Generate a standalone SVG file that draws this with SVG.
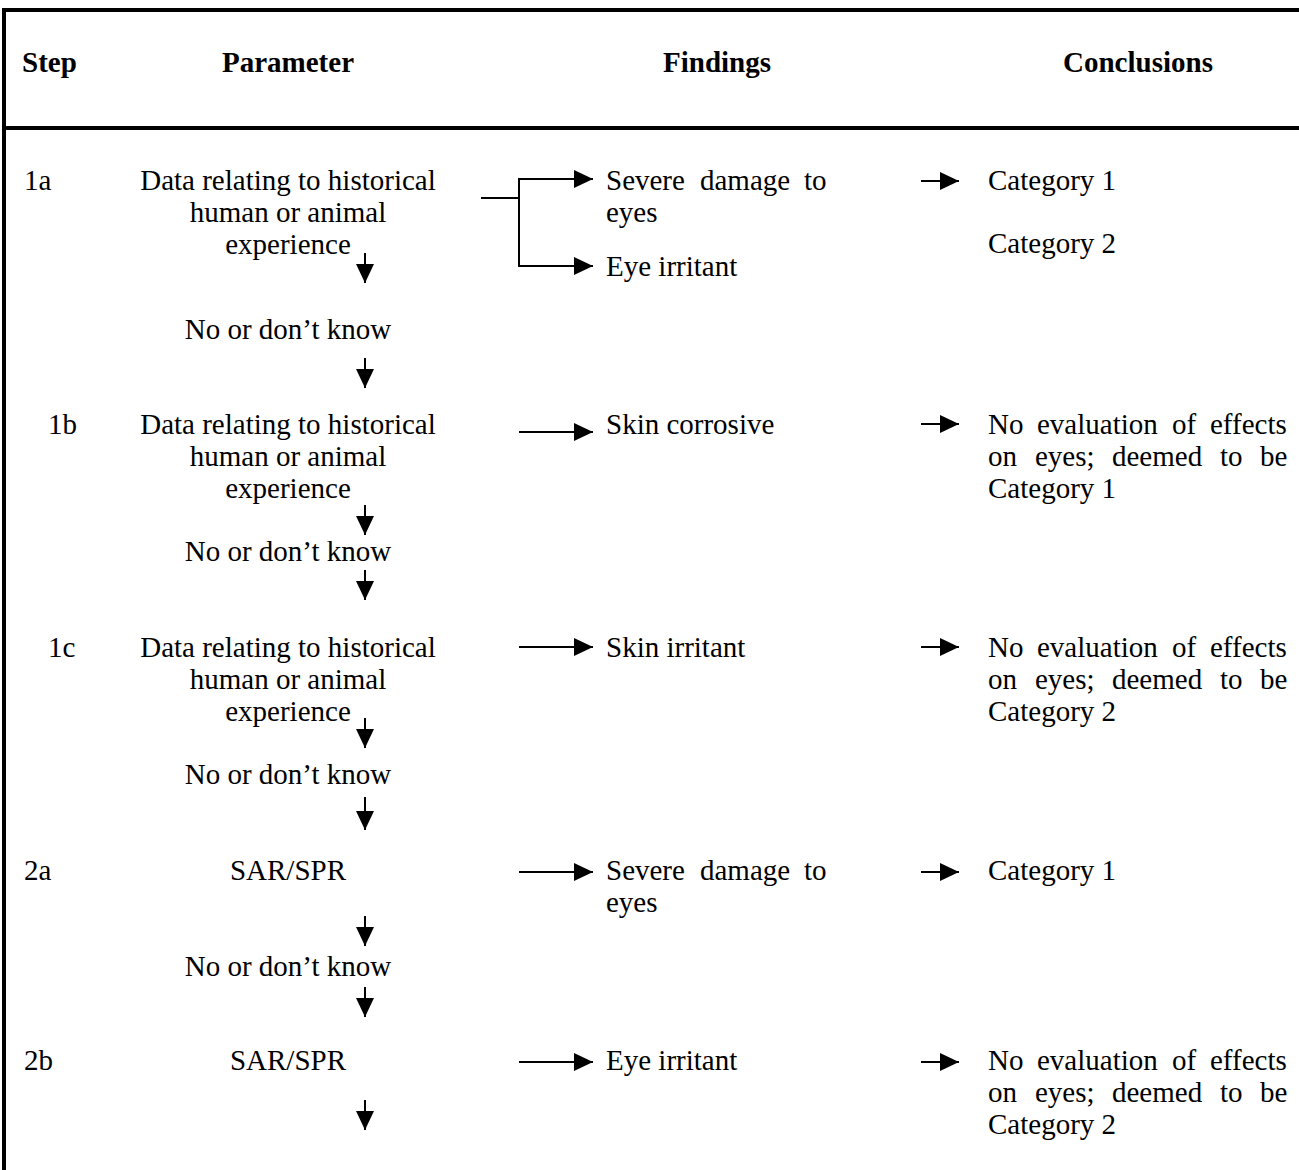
<svg xmlns="http://www.w3.org/2000/svg" width="1299" height="1170" viewBox="0 0 1299 1170">
<style>
text{font-family:"Liberation Serif","Times New Roman",serif;font-size:29px;fill:#000}
.h{font-weight:bold}
.c{text-anchor:middle}
.frame{stroke:#000;stroke-width:4;fill:none}
.ln{stroke:#000;stroke-width:2;fill:none}
.ar{stroke:#000;stroke-width:2;fill:none;marker-end:url(#ah)}
</style>
<defs>
<marker id="ah" markerUnits="userSpaceOnUse" markerWidth="19" markerHeight="18" refX="19" refY="9" orient="auto">
<path d="M0,0 L19,9 L0,18 z" fill="#000"/>
</marker>
</defs>
<rect width="1299" height="1170" fill="#fff"/>
<g id="frame">
<line class="frame" x1="4" y1="8" x2="4" y2="1170"/>
<line class="frame" x1="2" y1="10" x2="1299" y2="10"/>
<line class="frame" x1="2" y1="128" x2="1299" y2="128"/>
</g>
<g id="header">
<text class="h" x="22" y="72">Step</text>
<text class="h c" x="288" y="72">Parameter</text>
<text class="h c" x="717" y="72">Findings</text>
<text class="h c" x="1138" y="72">Conclusions</text>
</g>
<g id="row1a">
<text x="24" y="190">1a</text>
<text class="c" x="288" y="190">Data relating to historical</text>
<text class="c" x="288" y="222">human or animal</text>
<text class="c" x="288" y="254">experience</text>
</g>
<g id="no1a"><text class="c" x="288" y="339">No or don’t know</text></g>
<g id="find1a-severe"><text y="190"><tspan x="606">Severe</tspan><tspan x="700">damage</tspan><tspan x="804">to</tspan></text><text x="606" y="222">eyes</text></g>
<g id="find1a-irritant"><text x="606" y="276">Eye irritant</text></g>
<g id="conc1a-cat1"><text x="988" y="190">Category 1</text></g>
<g id="conc1a-cat2"><text x="988" y="253">Category 2</text></g>

<g id="row1b">
<text x="48" y="434">1b</text>
<text class="c" x="288" y="434">Data relating to historical</text>
<text class="c" x="288" y="466">human or animal</text>
<text class="c" x="288" y="498">experience</text>
</g>
<g id="no1b"><text class="c" x="288" y="561">No or don’t know</text></g>
<g id="find1b"><text x="606" y="434">Skin corrosive</text></g>
<g id="conc1b"><text y="434"><tspan x="988">No</tspan><tspan x="1037">evaluation</tspan><tspan x="1172">of</tspan><tspan x="1210">effects</tspan></text>
<text y="466"><tspan x="988">on</tspan><tspan x="1035">eyes;</tspan><tspan x="1112">deemed</tspan><tspan x="1220">to</tspan><tspan x="1260">be</tspan></text>
<text x="988" y="498">Category 1</text></g>

<g id="row1c">
<text x="48" y="657">1c</text>
<text class="c" x="288" y="657">Data relating to historical</text>
<text class="c" x="288" y="689">human or animal</text>
<text class="c" x="288" y="721">experience</text>
</g>
<g id="no1c"><text class="c" x="288" y="784">No or don’t know</text></g>
<g id="find1c"><text x="606" y="657">Skin irritant</text></g>
<g id="conc1c"><text y="657"><tspan x="988">No</tspan><tspan x="1037">evaluation</tspan><tspan x="1172">of</tspan><tspan x="1210">effects</tspan></text>
<text y="689"><tspan x="988">on</tspan><tspan x="1035">eyes;</tspan><tspan x="1112">deemed</tspan><tspan x="1220">to</tspan><tspan x="1260">be</tspan></text>
<text x="988" y="721">Category 2</text></g>

<g id="row2a">
<text x="24" y="880">2a</text>
<text class="c" x="288" y="880">SAR/SPR</text>
</g>
<g id="no2a"><text class="c" x="288" y="976">No or don’t know</text></g>
<g id="find2a"><text y="880"><tspan x="606">Severe</tspan><tspan x="700">damage</tspan><tspan x="804">to</tspan></text><text x="606" y="912">eyes</text></g>
<g id="conc2a"><text x="988" y="880">Category 1</text></g>

<g id="row2b">
<text x="24" y="1070">2b</text>
<text class="c" x="288" y="1070">SAR/SPR</text>
</g>
<g id="find2b"><text x="606" y="1070">Eye irritant</text></g>
<g id="conc2b"><text y="1070"><tspan x="988">No</tspan><tspan x="1037">evaluation</tspan><tspan x="1172">of</tspan><tspan x="1210">effects</tspan></text>
<text y="1102"><tspan x="988">on</tspan><tspan x="1035">eyes;</tspan><tspan x="1112">deemed</tspan><tspan x="1220">to</tspan><tspan x="1260">be</tspan></text>
<text x="988" y="1134">Category 2</text></g>

<g id="connectors">
<!-- 1a bracket -->
<line class="ln" x1="481" y1="198" x2="519" y2="198"/>
<line class="ln" x1="519" y1="179" x2="519" y2="267"/>
<line class="ar" x1="518" y1="179" x2="593" y2="179"/>
<line class="ar" x1="518" y1="266" x2="593" y2="266"/>
<line class="ar" x1="921" y1="181" x2="959" y2="181"/>
<!-- vertical arrows -->
<line class="ar" x1="365" y1="253" x2="365" y2="283"/>
<line class="ar" x1="365" y1="358" x2="365" y2="388"/>
<line class="ar" x1="365" y1="505" x2="365" y2="535"/>
<line class="ar" x1="365" y1="570" x2="365" y2="600"/>
<line class="ar" x1="365" y1="718" x2="365" y2="748"/>
<line class="ar" x1="365" y1="797" x2="365" y2="830"/>
<line class="ar" x1="365" y1="916" x2="365" y2="946"/>
<line class="ar" x1="365" y1="987" x2="365" y2="1017"/>
<line class="ar" x1="365" y1="1100" x2="365" y2="1130"/>
<!-- horizontal arrows -->
<line class="ar" x1="519" y1="432" x2="593" y2="432"/>
<line class="ar" x1="921" y1="424" x2="959" y2="424"/>
<line class="ar" x1="519" y1="647" x2="593" y2="647"/>
<line class="ar" x1="921" y1="647" x2="959" y2="647"/>
<line class="ar" x1="519" y1="872" x2="593" y2="872"/>
<line class="ar" x1="921" y1="872" x2="959" y2="872"/>
<line class="ar" x1="519" y1="1062" x2="593" y2="1062"/>
<line class="ar" x1="921" y1="1062" x2="959" y2="1062"/>
</g>
</svg>
